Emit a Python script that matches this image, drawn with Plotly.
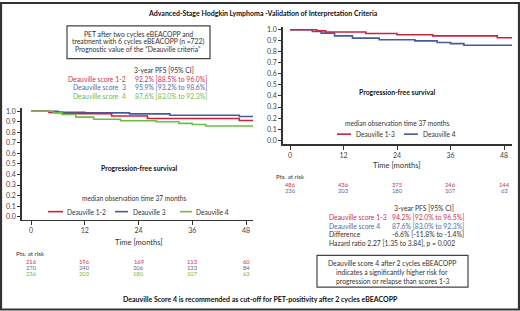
import plotly.graph_objects as go

W, H = 520, 311
FONT = "Lato"
RED = "rgb(200,35,65)"
BLUE = "rgb(70,90,160)"
GREEN = "rgb(110,190,70)"
RED_T = "rgb(205,50,80)"
BLUE_T = "rgb(85,105,170)"
GREEN_T = "rgb(115,185,75)"
DARK = "#333333"

# ---- data ----
tick_months = [0, 12, 24, 36, 48]

# Left panel: Deauville 1-2 / 3 / 4
l_red_t = [0, 4, 7, 18, 26, 46.5, 49.8]
l_red_s = [1.0, 0.99, 0.978, 0.955, 0.932, 0.912, 0.912]
l_blue_t = [0, 6, 12, 22, 31, 46.5, 49.8]
l_blue_s = [1.0, 0.99, 0.985, 0.975, 0.962, 0.95, 0.95]
l_green_t = [0, 5, 7, 10, 14, 20, 28, 33, 36, 39, 49.8]
l_green_s = [1.0, 0.985, 0.97, 0.945, 0.925, 0.91, 0.9, 0.885, 0.875, 0.86, 0.86]

# Right panel: Deauville 1-3 / 4
r_red_t = [0, 6, 8, 17, 24, 32, 46.5, 49.8]
r_red_s = [1.0, 0.99, 0.98, 0.967, 0.955, 0.945, 0.928, 0.928]
r_blue_t = [0, 5, 7, 10, 14, 20, 28, 33, 36, 39, 49.8]
r_blue_s = [1.0, 0.985, 0.97, 0.945, 0.925, 0.91, 0.9, 0.885, 0.875, 0.86, 0.86]

risk_l_12 = [216, 196, 169, 113, 60]
risk_l_3 = [270, 240, 206, 133, 84]
risk_l_4 = [236, 203, 180, 107, 63]
risk_r_13 = [486, 436, 375, 246, 144]
risk_r_4 = [236, 203, 180, 107, 63]


def X(px):
    return px / W


def Y(py):
    return 1 - py / H


fig = go.Figure()


def km(t, s, color, xa, ya):
    fig.add_trace(go.Scatter(x=t, y=s, mode="lines", line=dict(color=color, width=1.6, shape="hv"),
                             xaxis=xa, yaxis=ya, showlegend=False, hoverinfo="skip"))


km(l_blue_t, l_blue_s, BLUE, "x", "y")
km(l_red_t, l_red_s, RED, "x", "y")
km(l_green_t, l_green_s, GREEN, "x", "y")
km(r_blue_t, r_blue_s, BLUE, "x2", "y2")
km(r_red_t, r_red_s, RED, "x2", "y2")

axis_common = dict(showgrid=False, zeroline=False, showline=True, linecolor=DARK, ticks="outside",
                   tickcolor=DARK, tickfont=dict(family=FONT, size=7, color="#444"))

# Left axes
lx0, lx1 = 22, 253
px_m_l = (246 - 31) / 48
fig.update_layout(
    xaxis=dict(domain=[X(lx0), X(lx1)], range=[-(31 - lx0) / px_m_l, 48 + (lx1 - 246) / px_m_l],
               tickvals=tick_months, ticklen=4, linewidth=1.5, anchor="y", **axis_common),
    yaxis=dict(domain=[Y(219), Y(107)], range=[-3 / 106, 1 + 3 / 106], dtick=0.1, tick0=0,
               tickformat=".1f", ticklen=3, linewidth=1.8, anchor="x", **axis_common),
)
# Right axes
rx0, rx1 = 283, 512
px_m_r = (504 - 290) / 48
fig.update_layout(
    xaxis2=dict(domain=[X(rx0), X(rx1)], range=[-(290 - rx0) / px_m_r, 48 + (rx1 - 504) / px_m_r],
                tickvals=tick_months, ticklen=4, linewidth=1.5, anchor="y2", **axis_common),
    yaxis2=dict(domain=[Y(143), Y(25)], range=[-4 / 111, 1 + 3 / 111], dtick=0.1, tick0=0,
                tickformat=".1f", ticklen=3, linewidth=1.8, anchor="x2", **axis_common),
)

ann = []
shapes = []


def txt(x, y, text, size=6.8, color=DARK, bold=False, xanchor="center", xref="paper"):
    t = f"<b>{text}</b>" if bold else text
    ann.append(dict(x=x if xref != "paper" else X(x), y=Y(y), xref=xref, yref="paper", text=t,
                    showarrow=False, xanchor=xanchor, yanchor="middle",
                    font=dict(family=FONT, size=size, color=color), borderpad=0))


# Title
txt(263, 11, "Advanced-Stage Hodgkin Lymphoma -Validation of Interpretation Criteria", size=7.0, color="#111", bold=True)

# Top-left box
shapes.append(dict(type="rect", xref="paper", yref="paper", x0=X(67), x1=X(210), y0=Y(24), y1=Y(57),
                   line=dict(color="#444", width=1.2)))
txt(138, 32.3, "PET after two cycles eBEACOPP and")
txt(138, 40, "treatment with 6 cycles eBEACOPP (n =722)")
txt(138, 47.7, "Prognostic value of the \u201cDeauville criteria\u201d")

# Left PFS block
txt(164, 68, "3-year PFS [95% CI]")
txt(127, 77, "Deauville score 1-2", color=RED_T, xanchor="right")
txt(134, 77, "92.2% [88.5% to 96.0%]", color=RED_T, xanchor="left")
txt(127, 86, "Deauville score  3", color=BLUE_T, xanchor="right")
txt(134, 86, "95.9% [93.2% to 98.6%]", color=BLUE_T, xanchor="left")
txt(127, 95, "Deauville score  4", color=GREEN_T, xanchor="right")
txt(134, 95, "87.6% [83.0% to 92.3%]", color=GREEN_T, xanchor="left")

# Left plot annotations
txt(139, 167, "Progression-free survival", size=6.9, color="#111", bold=True)
txt(134, 197, "median observation time 37 months", size=6.6)


def legend_item(x0, x1, xt, y, color, label):
    shapes.append(dict(type="line", xref="paper", yref="paper", x0=X(x0), x1=X(x1), y0=Y(y), y1=Y(y),
                       line=dict(color=color, width=1.6)))
    txt(xt, y, label, size=6.6, xanchor="left")


legend_item(48, 63, 66, 211, RED, "Deauville 1-2")
legend_item(115, 128, 132, 211, BLUE, "Deauville 3")
legend_item(180, 192, 195, 211, GREEN, "Deauville 4")

txt(139, 242, "Time [months]", size=7.6)
txt(15, 253, "Pts. at risk", size=6.2, xanchor="left")
for m, a, b, c in zip(tick_months, risk_l_12, risk_l_3, risk_l_4):
    txt(m, 261, str(a), size=5.8, color=RED_T, xref="x")
    txt(m, 267, str(b), size=5.8, color=BLUE_T, xref="x")
    txt(m, 273, str(c), size=5.8, color=GREEN_T, xref="x")

# Right plot annotations
txt(397, 91, "Progression-free survival", size=6.9, color="#111", bold=True)
txt(397, 122, "median observation time 37 months", size=6.6)
legend_item(337, 351, 355, 133, RED, "Deauville 1-3")
legend_item(404, 418, 422, 133, BLUE, "Deauville 4")
txt(397, 164, "Time [months]", size=7.6)
txt(275, 176, "Pts. at risk", size=6.2, xanchor="left")
for m, a, b in zip(tick_months, risk_r_13, risk_r_4):
    txt(m, 184, str(a), size=5.8, color=RED_T, xref="x2")
    txt(m, 190, str(b), size=5.8, color=BLUE_T, xref="x2")

# Right PFS block
txt(424, 207, "3-year PFS [95% CI]")
txt(328, 216, "Deauville score 1-3", color=RED_T, xanchor="left")
txt(465, 216, "94.2% [92.0% to 96.5%]", color=RED_T, xanchor="right")
txt(328, 225, "Deauville score 4", color=BLUE_T, xanchor="left")
txt(465, 225, "87.6% [83.0% to 92.3%]", color=BLUE_T, xanchor="right")
txt(328, 234, "Difference", xanchor="left")
txt(465, 234, "-6.6% [-11.8% to -1.4%]", xanchor="right")
txt(328, 243, "Hazard ratio 2.27 [1.35 to 3.84], p = 0.002", xanchor="left")

# Bottom-right box
shapes.append(dict(type="rect", xref="paper", yref="paper", x0=X(317), x1=X(468), y0=Y(255), y1=Y(287),
                   line=dict(color="#444", width=1.2)))
txt(392, 263, "Deauville score 4 after 2 cycles eBEACOPP")
txt(392, 272, "indicates a significantly higher risk for")
txt(392, 281, "progression or relapse than scores 1-3")

# Bottom statement
txt(260, 299, "Deauville Score 4 is recommended as cut-off for PET-positivity after 2 cycles eBEACOPP",
    size=7.0, color="#111", bold=True)

# Outer frame
shapes.append(dict(type="rect", xref="paper", yref="paper", x0=X(1), x1=X(519), y0=Y(309.5), y1=Y(1),
                   line=dict(color="#333", width=2.2)))

fig.update_layout(width=W, height=H, margin=dict(l=0, r=0, t=0, b=0), paper_bgcolor="white",
                  plot_bgcolor="white", annotations=ann, shapes=shapes, showlegend=False,
                  font=dict(family=FONT, color=DARK))

fig.write_html("out.html", config={"displayModeBar": False, "staticPlot": True},
               post_script="document.body.style.margin='0';document.body.style.overflow='hidden';")
